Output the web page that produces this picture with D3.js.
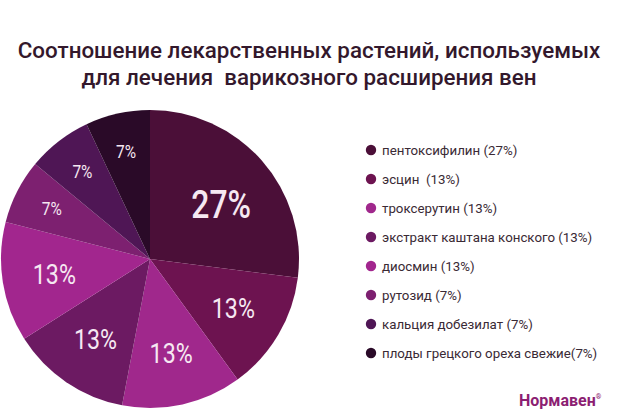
<!DOCTYPE html>
<html><head><meta charset="utf-8">
<script src="https://cdn.jsdelivr.net/npm/d3@7"></script>
<style>body{margin:0;background:#fff}svg{display:block}</style>
</head><body>
<script>
const categories = ["пентоксифилин (27%)","эсцин  (13%)","троксерутин (13%)","экстракт каштана конского (13%)","диосмин (13%)","рутозид (7%)","кальция добезилат (7%)","плоды грецкого ореха свежие(7%)"];
const values = [27,13,13,13,13,7,7,7];
const colors = ["#4b0f38","#6d1350","#a0288c","#6c1a62","#a2268e","#7d2070","#4f1655","#2a0a28"];
const titleLines = ["Соотношение лекарственных растений, используемых","для лечения  варикозного расширения вен"];

const W=618,H=412;
const svg=d3.select("body").append("svg").attr("width",W).attr("height",H);
const titleColor="#33182c";
const tt=svg.append("g").attr("font-family","Roboto, sans-serif").attr("font-weight",500).attr("fill",titleColor).attr("text-anchor","middle");
tt.selectAll("text").data(titleLines).join("text")
  .attr("x",309).attr("y",(d,i)=>58+i*27).attr("font-size",22.4).style("white-space","pre").text(d=>d);

const cx=150,cy=259,R=149;
const pie=d3.pie().sort(null).value(d=>d)(values);
const arc=d3.arc().innerRadius(0).outerRadius(R);
const g=svg.append("g").attr("transform",`translate(${cx},${cy})`);
g.selectAll("path").data(pie).join("path").attr("d",arc).attr("fill",(d,i)=>colors[i]);
function lr(v){return v>20?0.61*R:v>10?0.65*R:0.74*R;}
g.selectAll("text").data(pie).join("text")
  .attr("transform",d=>{const a=d3.arc().innerRadius(lr(d.data)).outerRadius(lr(d.data));const c=a.centroid(d);const s=d.data>20?0.84:0.86;return `translate(${c[0]+(d.data>20?3:0)},${c[1]+(d.data>20?5:0)}) scale(${s},1)`;})
  .attr("text-anchor","middle").attr("dy","0.36em")
  .attr("font-family","Roboto, sans-serif").attr("font-weight",d=>d.data>20?500:400)
  .attr("font-size",d=>d.data>20?38:d.data>10?27:18)
  .attr("fill","#f6e8f2").text(d=>d.data+"%");

const lg=svg.append("g").attr("font-family","Roboto, sans-serif").attr("font-size",13.3).attr("fill","#3a2a35");
const ly=d3.scalePoint().domain(categories).range([150,353]);
const items=lg.selectAll("g").data(categories).join("g").attr("transform",d=>`translate(371,${ly(d)})`);
items.append("circle").attr("r",5.2).attr("fill",(d,i)=>colors[i]);
items.append("text").attr("x",11).attr("dy","0.35em").style("white-space","pre").text(d=>d);

const logo=svg.append("text").attr("x",519).attr("y",406).attr("font-family","Roboto, sans-serif").attr("font-weight",700).attr("font-size",16).attr("fill","#8c1e72");
logo.append("tspan").text("Нормавен");
logo.append("tspan").attr("font-size",7).attr("dy",-7).text("®");
</script>
</body></html>
